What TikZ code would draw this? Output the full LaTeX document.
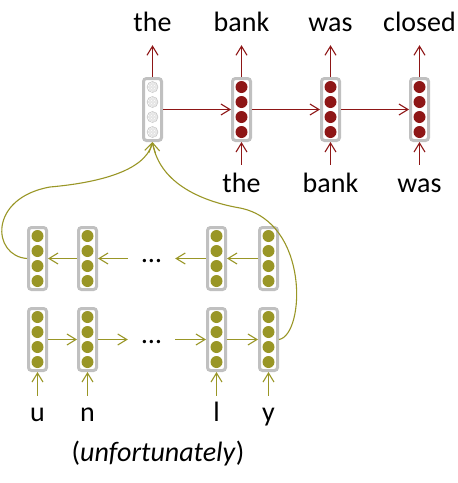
\documentclass[tikz,border=0pt]{standalone}
\usepackage{fontspec}
\setmainfont{Carlito}
\usetikzlibrary{arrows.meta, patterns}

\definecolor{decred}{RGB}{142,22,22}
\definecolor{encolive}{RGB}{153,150,38}
\definecolor{cellgray}{RGB}{192,192,192}

\begin{document}
\begin{tikzpicture}[
      x=1pt, y=-1pt,
      cell/.style={draw=cellgray, line width=3pt, rounded corners=3pt, fill=white,
        minimum width=18pt, minimum height=62pt, inner sep=0pt},
      word/.style={font=\fontsize{28}{34}\selectfont, inner sep=0pt, anchor=base,
        text height=18pt, text depth=6pt},
      gap/.style={font=\fontsize{28}{34}\selectfont, inner sep=0pt, minimum width=47pt},
      decarrow/.style={decred, line width=1.1pt, -{Straight Barb[length=9pt, width=11pt]}},
      encarrow/.style={encolive, line width=1.1pt, -{Straight Barb[length=9pt, width=11pt]}}
    ]
    \useasboundingbox (0, 0) rectangle (458, 483);

    % decoder cells
    \node [cell] (d1) at (152.5, 109.5) {};
    \node [cell] (d2) at (241.5, 109.5) {};
    \node [cell] (d3) at (330.5, 109.5) {};
    \node [cell] (d4) at (419.5, 109.5) {};

    % backward encoder cells (top row)
    \node [cell] (b1) at (37.5, 258.5) {};
    \node [cell] (b2) at (87.5, 258.5) {};
    \node [cell] (b3) at (216.5, 258.5) {};
    \node [cell] (b4) at (268.5, 258.5) {};

    % forward encoder cells (bottom row)
    \node [cell] (f1) at (37.5, 339.5) {};
    \node [cell] (f2) at (87.5, 339.5) {};
    \node [cell] (f3) at (216.5, 339.5) {};
    \node [cell] (f4) at (268.5, 339.5) {};

    % units
    \foreach \y in {-22.5, -7.5, 7.5, 22.5} {
      \draw [gray!50, fill=gray!20] ([yshift=\y pt]d1.center) circle [radius=5.5];
      \fill [pattern=crosshatch dots, pattern color=white] ([yshift=\y pt]d1.center) circle [radius=5];
      \foreach \c in {d2, d3, d4}
        \fill [decred] ([yshift=\y pt]\c.center) circle [radius=6];
      \foreach \c in {b1, b2, b3, b4, f1, f2, f3, f4}
        \fill [encolive] ([yshift=\y pt]\c.center) circle [radius=6];
    }

    % gaps
    \node [gap] (bdots) at (151.5, 261) {\ldots};
    \node [gap] (fdots) at (151.5, 342) {\ldots};

    % decoder words
    \node [word] (o1) at (152.5, 31) {the};
    \node [word] (o2) at (241.5, 31) {bank};
    \node [word] (o3) at (330.5, 31) {was};
    \node [word] (o4) at (419.5, 31) {closed};
    \node [word] (i2) at (241.5, 192) {the};
    \node [word] (i3) at (330.5, 192) {bank};
    \node [word] (i4) at (419.5, 192) {was};

    % encoder letters
    \node [word] (c1) at (37.5, 421.5) {u};
    \node [word] (c2) at (87.5, 421.5) {n};
    \node [word] (c3) at (216.5, 421.5) {l};
    \node [word] (c4) at (268.5, 421.5) {y};
    \node [word] (src) at (158, 461) {(\textit{unfortunately})};

    % decoder arrows
    \foreach \i in {1, 2, 3, 4}
      \draw [decarrow, shorten >=8pt] (d\i.north) -- (o\i.south);
    \foreach \i in {2, 3, 4}
      \draw [decarrow, shorten <=9pt] (i\i.north) -- (d\i.south);
    \draw [decarrow] (d1.east) -- (d2.west);
    \draw [decarrow] (d2.east) -- (d3.west);
    \draw [decarrow] (d3.east) -- (d4.west);

    % forward encoder arrows
    \foreach \i in {1, 2, 3, 4}
      \draw [encarrow, shorten <=7.5pt] (c\i.north) -- (f\i.south);
    \draw [encarrow] (f1.east) -- (f2.west);
    \draw [encarrow] (f2.east) -- (fdots.west |- f2.east);
    \draw [encarrow] (fdots.east |- f3.west) -- (f3.west);
    \draw [encarrow] (f3.east) -- (f4.west);

    % backward encoder arrows
    \draw [encarrow] (b4.west) -- (b3.east);
    \draw [encarrow] (b3.west) -- (bdots.east |- b3.west);
    \draw [encarrow] (bdots.west |- b2.east) -- (b2.east);
    \draw [encarrow] (b2.west) -- (b1.east);

    % final states into the decoder
    \draw [encarrow] (f4.east) .. controls (305, 335) and (310, 222) .. (240, 208)
      .. controls (205, 202) and (160, 185) .. (d1.south);
    \draw [encarrow] (b1.west) .. controls (-8, 256) and (-12, 198) .. (50, 187)
      .. controls (95, 183) and (145, 172) .. (d1.south);
  \end{tikzpicture}
\end{document}
